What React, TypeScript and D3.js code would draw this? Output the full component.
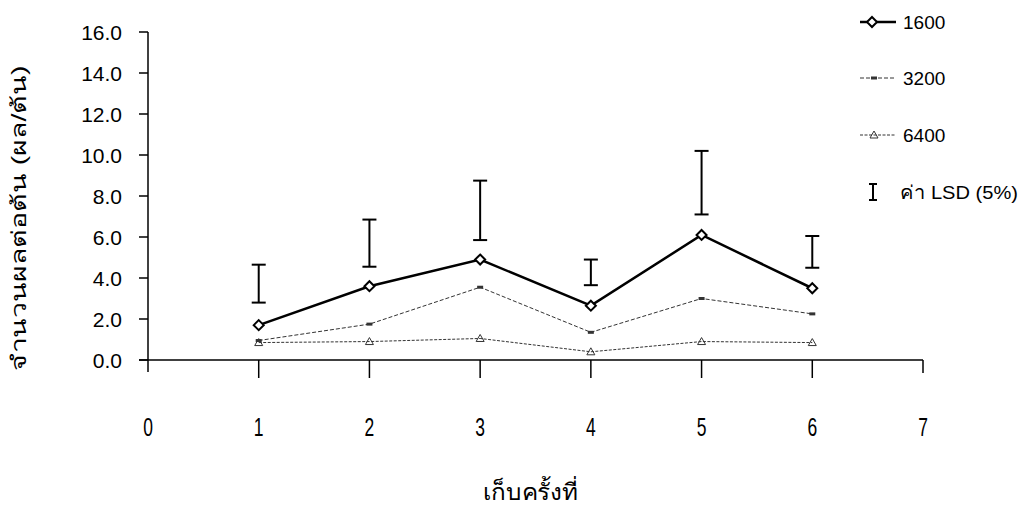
import React from "react";
import * as d3 from "d3";

// Harvest number (x) and fruits per plant for each planting density
const harvests = [1, 2, 3, 4, 5, 6];
const series1600 = [1.7, 3.6, 4.9, 2.65, 6.1, 3.5];
const series3200 = [0.95, 1.75, 3.55, 1.35, 3.0, 2.25];
const series6400 = [0.85, 0.9, 1.05, 0.4, 0.9, 0.85];
// LSD (5%) bars: lower and upper ends
const lsdLow = [2.8, 4.55, 5.85, 3.65, 7.1, 4.5];
const lsdHigh = [4.65, 6.85, 8.75, 4.9, 10.2, 6.05];
const yTicks = [0, 2, 4, 6, 8, 10, 12, 14, 16];
const xTicks = [0, 1, 2, 3, 4, 5, 6, 7];
const legendLabels = ["1600", "3200", "6400"];

const W = 1022;
const H = 519;
const font = "'Liberation Sans', Arial, sans-serif";

export default function App() {
  const x = d3.scaleLinear().domain([0, 7]).range([148, 923]);
  const y = d3.scaleLinear().domain([0, 16]).range([360, 32]);
  const line = d3
    .line<number>()
    .x((_, i) => x(harvests[i]))
    .y((d) => y(d));

  const diamond = (cx: number, cy: number, key: string) => (
    <path
      key={key}
      d={`M${cx},${cy - 5}L${cx + 5},${cy}L${cx},${cy + 5}L${cx - 5},${cy}Z`}
      fill="#fff"
      stroke="#000"
      strokeWidth={2}
    />
  );
  const triangle = (cx: number, cy: number, key: string) => (
    <path
      key={key}
      d={`M${cx},${cy - 4}L${cx + 4},${cy + 3}L${cx - 4},${cy + 3}Z`}
      fill="none"
      stroke="#333"
      strokeWidth={1}
    />
  );
  const dash = (cx: number, cy: number, key: string) => (
    <rect key={key} x={cx - 3} y={cy - 1.5} width={6} height={3} fill="#333" />
  );
  const ibar = (cx: number, y1: number, y2: number, key: string, w = 7) => (
    <g key={key} stroke="#000" strokeWidth={2}>
      <line x1={cx} x2={cx} y1={y1} y2={y2} />
      <line x1={cx - w} x2={cx + w} y1={y1} y2={y1} />
      <line x1={cx - w} x2={cx + w} y1={y2} y2={y2} />
    </g>
  );

  const legendY = [22, 78, 135];

  return (
    <svg
      width={W}
      height={H}
      style={{ position: "absolute", left: 0, top: 0, background: "#fff" }}
    >
      {/* y axis */}
      <line x1={148} x2={148} y1={y(16)} y2={372} stroke="#000" strokeWidth={1.5} />
      {yTicks.map((t) => (
        <g key={"yt" + t}>
          <line x1={139} x2={148} y1={y(t)} y2={y(t)} stroke="#000" strokeWidth={1.5} />
          <text
            x={122}
            y={y(t)}
            dy="0.36em"
            textAnchor="end"
            fontFamily={font}
            fontSize={21}
          >
            {t.toFixed(1)}
          </text>
        </g>
      ))}
      {/* x axis */}
      <line x1={139} x2={x(7)} y1={360} y2={360} stroke="#000" strokeWidth={1.5} />
      {xTicks.map((t) => (
        <g key={"xt" + t}>
          {t > 0 && (
            <line x1={x(t)} x2={x(t)} y1={360} y2={t === 7 ? 373 : 378} stroke="#000" strokeWidth={1.5} />
          )}
          <text
            transform={`translate(${x(t)},436) scale(0.7,1)`}
            textAnchor="middle"
            fontFamily={font}
            fontSize={25}
          >
            {t}
          </text>
        </g>
      ))}

      {/* LSD bars */}
      {harvests.map((h, i) => ibar(x(h), y(lsdHigh[i]), y(lsdLow[i]), "lsd" + i))}

      {/* series 6400 */}
      <path d={line(series6400) ?? ""} fill="none" stroke="#333" strokeWidth={1} strokeDasharray="3,1.5" />
      {series6400.map((v, i) => triangle(x(harvests[i]), y(v), "t" + i))}
      {/* series 3200 */}
      <path d={line(series3200) ?? ""} fill="none" stroke="#333" strokeWidth={1} strokeDasharray="4,2" />
      {series3200.map((v, i) => dash(x(harvests[i]), y(v), "s" + i))}
      {/* series 1600 */}
      <path d={line(series1600) ?? ""} fill="none" stroke="#000" strokeWidth={2.5} />
      {series1600.map((v, i) => diamond(x(harvests[i]), y(v), "d" + i))}

      {/* legend */}
      <g>
        <line x1={860} x2={896} y1={legendY[0]} y2={legendY[0]} stroke="#000" strokeWidth={2.5} />
        {diamond(872, legendY[0], "ld")}
        <line x1={860} x2={896} y1={legendY[1]} y2={legendY[1]} stroke="#333" strokeWidth={1} strokeDasharray="4,2" />
        {dash(874, legendY[1], "ls")}
        <line x1={860} x2={896} y1={legendY[2]} y2={legendY[2]} stroke="#333" strokeWidth={1} strokeDasharray="3,1.5" />
        {triangle(874, legendY[2], "lt")}
        {legendLabels.map((l, i) => (
          <text key={l} x={903} y={legendY[i]} dy="0.36em" fontFamily={font} fontSize={19}>
            {l}
          </text>
        ))}
        {ibar(873, 184, 200, "lsdLegend", 4)}
        <text
          x={900}
          y={192}
          dy="0.36em"
          fontFamily={font}
          fontSize={19}
          textLength={118}
          lengthAdjust="spacingAndGlyphs"
        >
          ค่า LSD (5%)
        </text>
      </g>

      {/* axis titles */}
      <text
        transform="translate(19,218) rotate(-90)"
        textAnchor="middle"
        dy="0.35em"
        fontFamily={font}
        fontSize={20}
        textLength={305}
        lengthAdjust="spacingAndGlyphs"
      >
        จำนวนผลต่อต้น (ผล/ต้น)
      </text>
      <text
        x={530}
        y={500}
        textAnchor="middle"
        fontFamily={font}
        fontSize={23}
        textLength={95}
        lengthAdjust="spacingAndGlyphs"
      >
        เก็บครั้งที่
      </text>
    </svg>
  );
}
